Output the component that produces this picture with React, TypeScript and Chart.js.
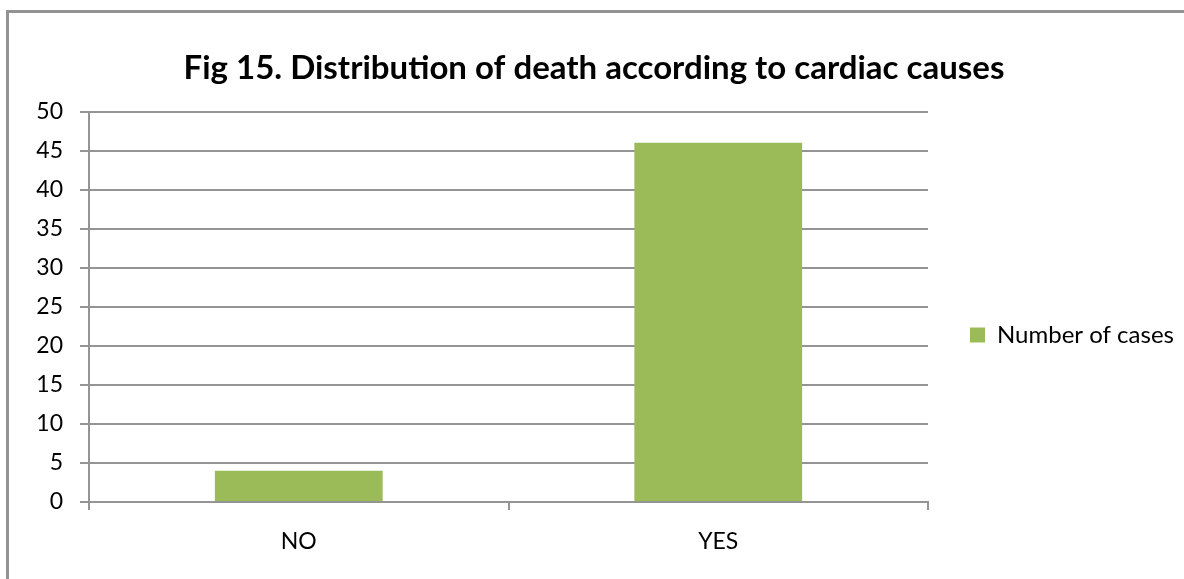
import React, { useEffect, useRef } from "react";
import { Chart, registerables } from "chart.js";

Chart.register(...registerables);

// Chart content
const chartTitle = "Fig 15. Distribution of death according to cardiac causes";
const categories = ["NO", "YES"];
const seriesLabel = "Number of cases";
const numberOfCases = [4, 46];
const yMin = 0;
const yMax = 50;
const yStep = 5;

// Styling
const FONT = "Lato, 'Open Sans', sans-serif";
const BAR_COLOR = "#9BBB59";
const LINE_COLOR = "#949494";
const LINE_WIDTH = 2;
const CANVAS_W = 1200;
const CANVAS_H = 670;
const PLOT_LEFT = 89;
const PLOT_RIGHT = 928;
const PLOT_BOTTOM = 502;
const TITLE_CENTER_X = 594;

export default function App() {
  const canvasRef = useRef<HTMLCanvasElement | null>(null);

  useEffect(() => {
    const canvas = canvasRef.current;
    if (!canvas) return;

    const frame = { padLeft: 20, padRight: 20 };

    const chart = new Chart(canvas, {
      type: "bar",
      data: {
        labels: categories,
        datasets: [
          {
            label: seriesLabel,
            data: numberOfCases,
            backgroundColor: BAR_COLOR,
            borderWidth: 0,
            barPercentage: 0.4,
            categoryPercentage: 1,
          },
        ],
      },
      options: {
        responsive: false,
        animation: false,
        devicePixelRatio: 1,
        layout: {
          padding: { left: frame.padLeft, right: frame.padRight, top: 0, bottom: 0 },
        },
        plugins: {
          title: {
            display: true,
            text: chartTitle,
            color: "#000",
            font: { family: FONT, size: 33, weight: "bold" },
            padding: { top: 49, bottom: 23 },
          },
          legend: {
            display: true,
            position: "right",
            align: "center",
            labels: {
              color: "#000",
              font: { family: FONT, size: 24 },
              boxWidth: 15,
              boxHeight: 15,
              padding: 42,
            },
          },
          tooltip: { enabled: false },
        },
        scales: {
          x: {
            offset: true,
            grid: {
              display: true,
              drawOnChartArea: false,
              drawTicks: true,
              tickLength: 8,
              offset: true,
              color: LINE_COLOR,
              lineWidth: LINE_WIDTH,
            },
            border: { display: true, color: LINE_COLOR, width: LINE_WIDTH },
            ticks: {
              color: "#000",
              font: { family: FONT, size: 23 },
              padding: 18,
            },
            afterFit: (scale: any) => {
              scale.height = CANVAS_H - PLOT_BOTTOM;
            },
          },
          y: {
            min: yMin,
            max: yMax,
            ticks: {
              stepSize: yStep,
              color: "#000",
              font: { family: FONT, size: 23 },
              padding: 17,
            },
            grid: {
              color: LINE_COLOR,
              lineWidth: LINE_WIDTH,
              tickLength: 9,
            },
            border: { display: true, color: LINE_COLOR, width: LINE_WIDTH },
            afterFit: (scale: any) => {
              scale.width = PLOT_LEFT - frame.padLeft;
            },
          },
        },
      },
    });

    // Place the plot area and centre the title once the legend width is known.
    const legendWidth = chart.legend ? chart.legend.width : 240;
    frame.padLeft = Math.max(0, 2 * TITLE_CENTER_X - PLOT_RIGHT - legendWidth);
    frame.padRight = Math.max(0, CANVAS_W - PLOT_RIGHT - legendWidth);
    (chart.options.layout as any).padding = {
      left: frame.padLeft,
      right: frame.padRight,
      top: 0,
      bottom: 0,
    };
    chart.update();

    return () => chart.destroy();
  }, []);

  return (
    <div
      style={{
        position: "fixed",
        left: 0,
        top: 0,
        width: 1184,
        height: 579,
        overflow: "hidden",
        background: "#fff",
      }}
    >
      <div
        style={{
          position: "absolute",
          left: 6,
          top: 10,
          width: 1300,
          height: 700,
          borderTop: "3px solid #939393",
          borderLeft: "3px solid #939393",
        }}
      />
      <canvas
        ref={canvasRef}
        width={CANVAS_W}
        height={CANVAS_H}
        style={{ position: "absolute", left: 0, top: 0, width: CANVAS_W, height: CANVAS_H }}
      />
    </div>
  );
}
